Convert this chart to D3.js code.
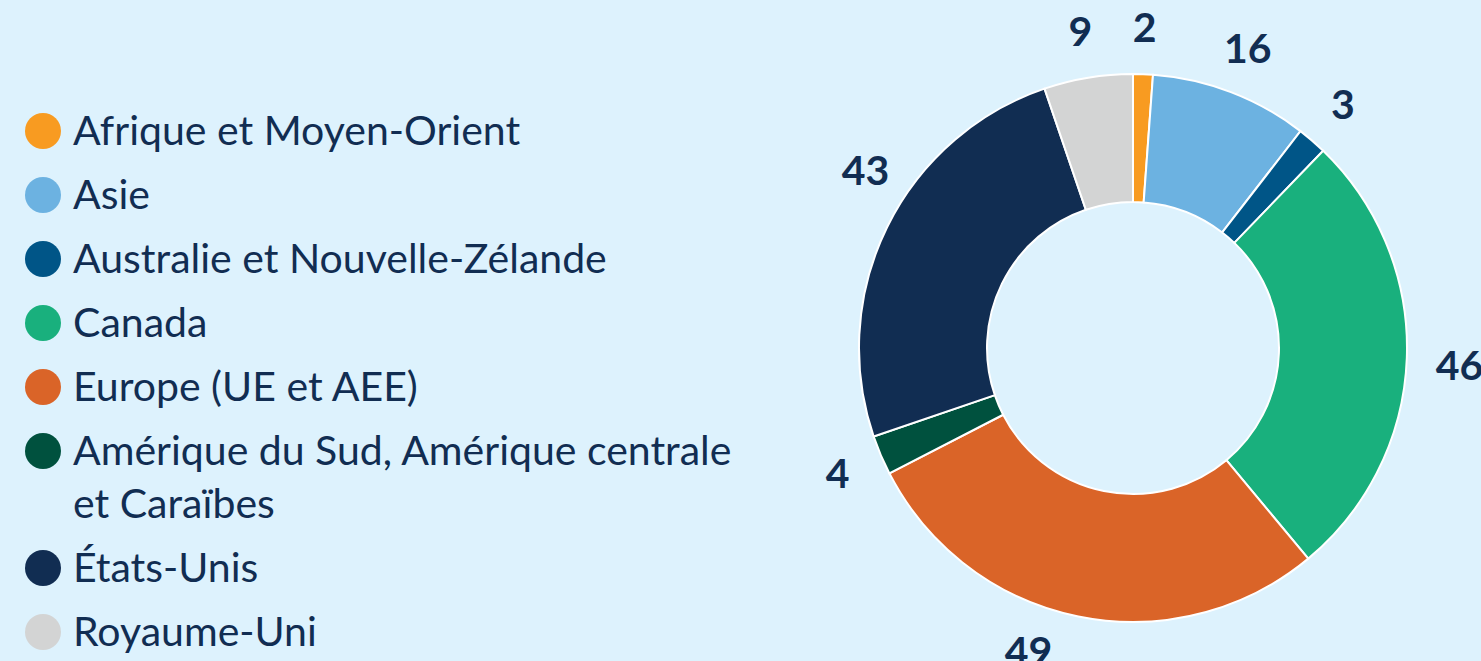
<!DOCTYPE html>
<html>
<head>
<meta charset="utf-8">
<script src="https://d3js.org/d3.v7.min.js"></script>
<style>
  body { margin: 0; background: #ddf2fd; }
  svg { display: block; }
  .legend text { font-family: Lato, "Open Sans", sans-serif; font-size: 41px; fill: #112d52; }
  .val { font-family: Lato, "Open Sans", sans-serif; font-weight: 700; font-size: 41px; fill: #112d52; }
</style>
</head>
<body>
<div id="chart"></div>
<script>
// data
var regions = ["Afrique et Moyen-Orient", "Asie", "Australie et Nouvelle-Zélande", "Canada",
  "Europe (UE et AEE)", "Amérique du Sud, Amérique centrale et Caraïbes", "États-Unis", "Royaume-Uni"];
var counts = [2, 16, 3, 46, 49, 4, 43, 9];
var colors = ["#f89b21", "#6cb2e1", "#005587", "#19b07d", "#da6428", "#00513e", "#112d52", "#d3d4d4"];

var W = 1481, H = 661;
var cx = 1133, cy = 348, rOut = 274, rIn = 146, rLab = 321;

var svg = d3.select("#chart").append("svg").attr("width", W).attr("height", H);

// donut
var pie = d3.pie().sort(null).value(function (d) { return d; });
var arcs = pie(counts);
var arc = d3.arc().innerRadius(rIn).outerRadius(rOut);

var g = svg.append("g").attr("transform", "translate(" + cx + "," + cy + ")");
g.selectAll("path").data(arcs).enter().append("path")
  .attr("d", arc)
  .attr("fill", function (d, i) { return colors[i]; })
  .attr("stroke", "#ffffff")
  .attr("stroke-width", 2);

// value labels (small angular nudges where labels were pushed apart)
var nudge = { 3: 1, 4: 7.5, 6: 7.4 };
g.selectAll("text.val").data(arcs).enter().append("text")
  .attr("class", "val")
  .attr("text-anchor", "middle")
  .attr("dy", "0.35em")
  .attr("transform", function (d, i) {
    var a = (d.startAngle + d.endAngle) / 2 + (nudge[i] || 0) * Math.PI / 180;
    var r = i == 3 ? rLab + 6 : rLab;
    return "translate(" + (Math.sin(a) * r) + "," + (-Math.cos(a) * r) + ")";
  })
  .text(function (d) { return d.value; });

// legend
var legend = svg.append("g").attr("class", "legend");
var lineH = 53, gap = 11, maxW = 695;
var y = 131;
regions.forEach(function (name, i) {
  var item = legend.append("g").attr("transform", "translate(0," + y + ")");
  item.append("circle").attr("cx", 43).attr("cy", 0).attr("r", 18).attr("fill", colors[i]);
  var t = item.append("text").attr("x", 73).attr("y", 0).attr("dy", "0.35em");
  var words = name.split(" "), line = [], n = 0;
  var ts = t.append("tspan").attr("x", 73);
  words.forEach(function (w) {
    line.push(w);
    ts.text(line.join(" "));
    if (ts.node().getComputedTextLength() > maxW && line.length > 1) {
      line.pop();
      ts.text(line.join(" "));
      line = [w];
      n++;
      ts = t.append("tspan").attr("x", 73).attr("dy", lineH).text(w);
    }
  });
  y += (n + 1) * lineH + gap;
});
</script>
</body>
</html>
